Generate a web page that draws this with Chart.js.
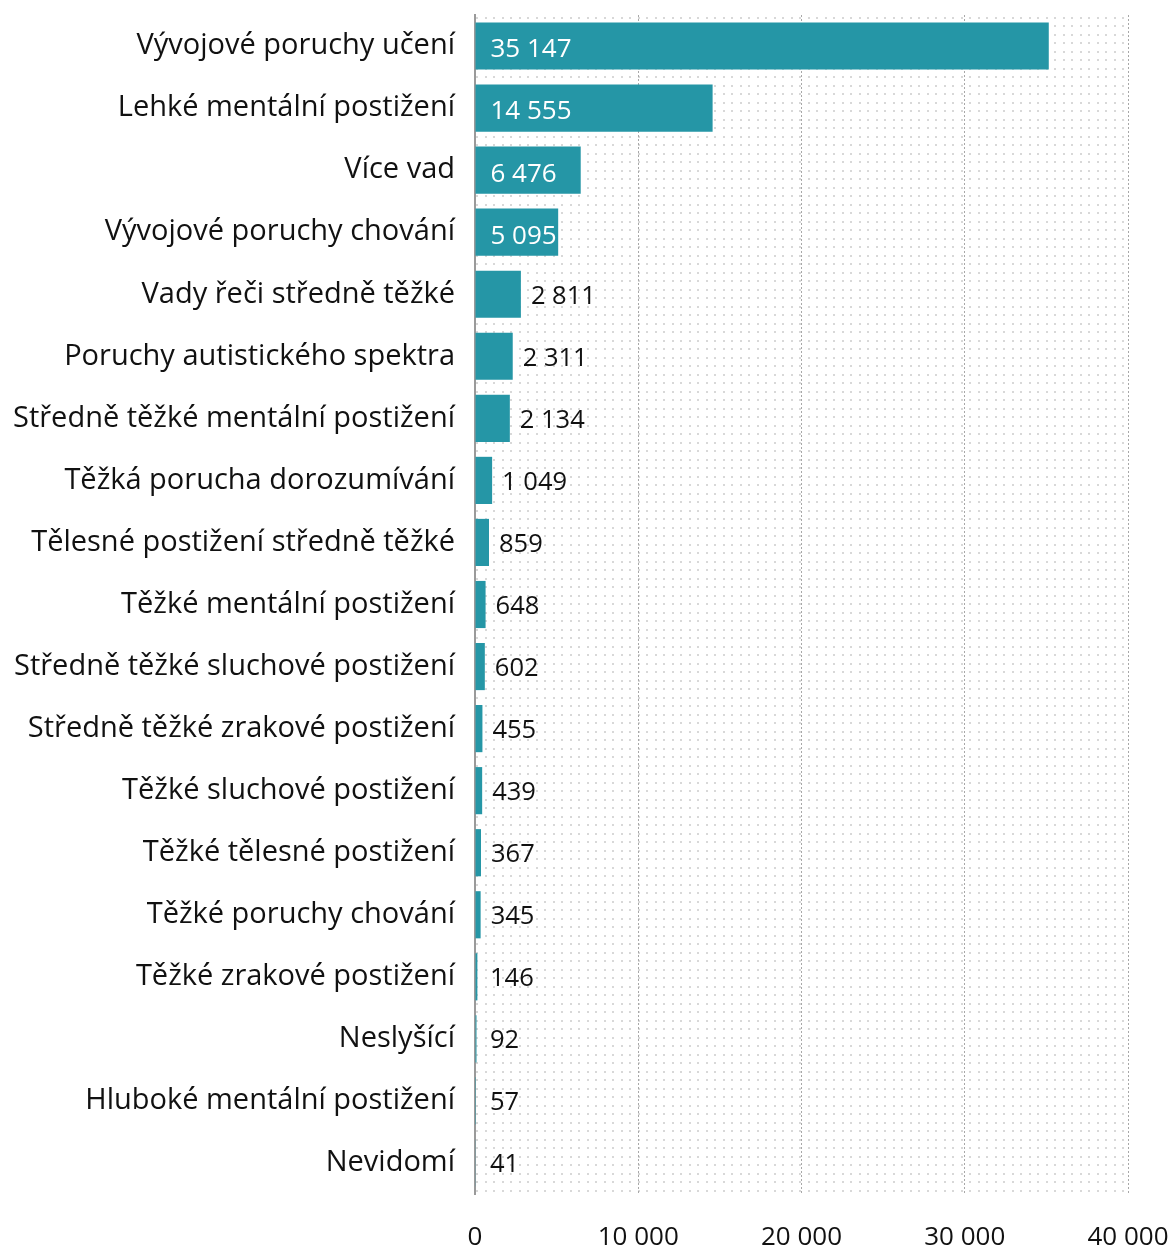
<!DOCTYPE html>
<html lang="cs">
<head>
<meta charset="UTF-8">
<title>Počty žáků podle druhu postižení</title>
<script src="https://cdn.jsdelivr.net/npm/chart.js@4.4.0/dist/chart.umd.min.js"></script>
<style>
  body { margin: 0; background: #fff; }
  #wrap { width: 1176px; height: 1250px; }
</style>
</head>
<body>
<div id="wrap"><canvas id="chart" width="1176" height="1250"></canvas></div>
<script>
// data
const categories = [
  'Vývojové poruchy učení',
  'Lehké mentální postižení',
  'Více vad',
  'Vývojové poruchy chování',
  'Vady řeči středně těžké',
  'Poruchy autistického spektra',
  'Středně těžké mentální postižení',
  'Těžká porucha dorozumívání',
  'Tělesné postižení středně těžké',
  'Těžké mentální postižení',
  'Středně těžké sluchové postižení',
  'Středně těžké zrakové postižení',
  'Těžké sluchové postižení',
  'Těžké tělesné postižení',
  'Těžké poruchy chování',
  'Těžké zrakové postižení',
  'Neslyšící',
  'Hluboké mentální postižení',
  'Nevidomí'
];
const pupils = [35147, 14555, 6476, 5095, 2811, 2311, 2134, 1049, 859, 648, 602, 455, 439, 367, 345, 146, 92, 57, 41];
const axisMax = 40000;
const axisStep = 10000;

const FONT = '"Open Sans", sans-serif';
const TEAL = '#2596a6';

function fmt(v) {
  return String(v).replace(/\B(?=(\d{3})+(?!\d))/g, ' ');
}

// dotted background of the plot area
function dotPattern(ctx) {
  const c = document.createElement('canvas');
  c.width = 17; c.height = 17;
  const g = c.getContext('2d');
  g.fillStyle = '#d8d8d8';
  [[0, 0], [9, 0], [0, 8], [9, 8]].forEach(p => g.fillRect(p[0], p[1], 2, 2));
  return ctx.createPattern(c, 'repeat');
}

const dotsPlugin = {
  id: 'dots',
  beforeDraw(chart) {
    const { ctx, chartArea: a } = chart;
    ctx.save();
    ctx.fillStyle = dotPattern(ctx);
    ctx.fillRect(a.left, a.top, a.right - a.left, a.bottom - a.top);
    ctx.restore();
  }
};

const valueLabels = {
  id: 'valueLabels',
  afterDatasetsDraw(chart) {
    const ctx = chart.ctx;
    const meta = chart.getDatasetMeta(0);
    ctx.save();
    ctx.textBaseline = 'middle';
    meta.data.forEach((bar, i) => {
      const v = pupils[i];
      const txt = fmt(v);
      if (v > 5000) {
        ctx.save();
        ctx.beginPath();
        ctx.rect(bar.base, bar.y - bar.height / 2, bar.x - bar.base, bar.height);
        ctx.clip();
        ctx.fillStyle = '#ffffff';
        ctx.font = '26px ' + FONT;
        ctx.textAlign = 'left';
        ctx.fillText(txt, bar.base + 15, bar.y + 4);
        ctx.restore();
      } else {
        ctx.fillStyle = '#111111';
        ctx.font = '25.5px ' + FONT;
        ctx.textAlign = 'left';
        ctx.fillText(txt, Math.max(bar.x + 10, 490), bar.y + 2);
      }
    });
    ctx.restore();
  }
};

new Chart(document.getElementById('chart'), {
  type: 'bar',
  data: {
    labels: categories,
    datasets: [{
      data: pupils,
      backgroundColor: TEAL,
      borderWidth: 0,
      barPercentage: 0.76,
      categoryPercentage: 1.0
    }]
  },
  options: {
    indexAxis: 'y',
    responsive: false,
    animation: false,
    layout: { padding: { top: 15, right: 48, left: 0, bottom: 0 } },
    plugins: {
      legend: { display: false },
      tooltip: { enabled: false }
    },
    scales: {
      x: {
        min: 0,
        max: axisMax,
        ticks: {
          stepSize: axisStep,
          padding: 28,
          color: '#111111',
          font: { family: FONT, size: 26 },
          callback: v => fmt(v)
        },
        grid: {
          color: ctx => ctx.tick && ctx.tick.value === 0 ? 'rgba(0,0,0,0)' : '#a8a8a8',
          lineWidth: 1,
          drawTicks: false
        },
        border: { display: false, dash: [2, 2] },
        afterFit: s => {
          s.height = 56;
          s.paddingLeft = 0;
          s.paddingRight = 0;
        }
      },
      y: {
        ticks: {
          padding: 20,
          color: '#111111',
          font: { family: FONT, size: 29 }
        },
        grid: { display: false, drawTicks: false },
        border: { display: true, color: '#9a9a9a', width: 2 },
        afterFit: s => {
          s.width = 475;
          s.paddingTop = 0;
          s.paddingBottom = 0;
        }
      }
    }
  },
  plugins: [dotsPlugin, valueLabels]
});
</script>
</body>
</html>
